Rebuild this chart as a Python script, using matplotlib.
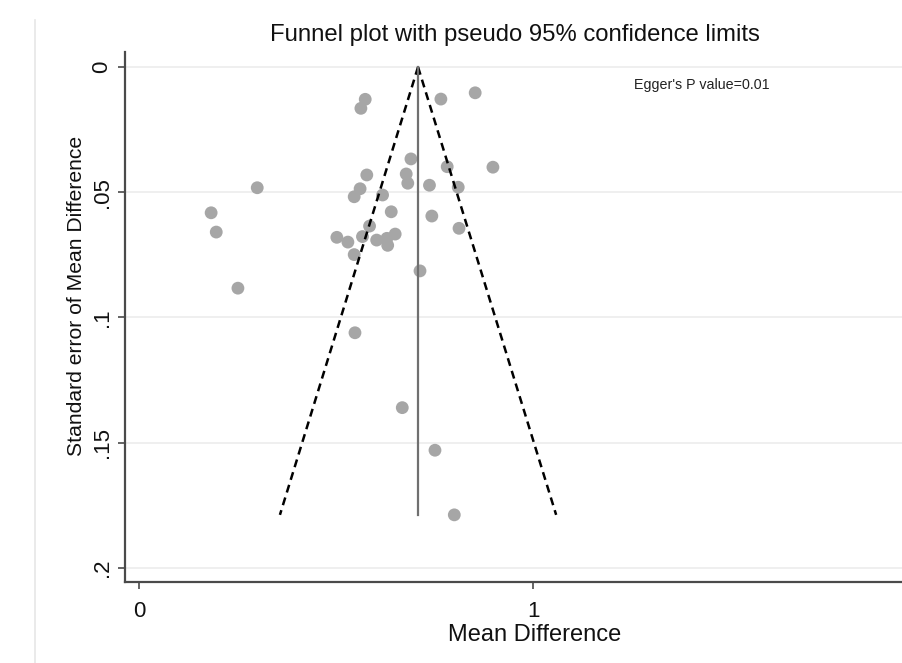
import matplotlib
matplotlib.use('Agg')
import matplotlib.pyplot as plt
from matplotlib.lines import Line2D
import numpy as np

plt.rcParams['font.family'] = ['Liberation Sans', 'DejaVu Sans']

# study estimates: mean difference and its standard error
mean_diff = [0.574, 0.563, 0.766, 0.853, 0.690, 0.782, 0.898, 0.578, 0.678,
             0.682, 0.737, 0.810, 0.300, 0.561, 0.546, 0.618, 0.183, 0.640,
             0.743, 0.196, 0.585, 0.812, 0.502, 0.530, 0.567, 0.603, 0.629,
             0.650, 0.631, 0.546, 0.713, 0.251, 0.548, 0.668, 0.751, 0.800]
std_err = [0.0129, 0.0165, 0.0128, 0.0103, 0.0367, 0.0398, 0.0400, 0.0431,
           0.0427, 0.0464, 0.0472, 0.0480, 0.0482, 0.0486, 0.0518, 0.0511,
           0.0582, 0.0578, 0.0595, 0.0659, 0.0635, 0.0644, 0.0680, 0.0699,
           0.0677, 0.0691, 0.0684, 0.0667, 0.0712, 0.0749, 0.0814, 0.0883,
           0.1061, 0.1360, 0.1530, 0.1788]
pooled = 0.708
egger_text = "Egger's P value=0.01"

ytick_vals = [0, 0.05, 0.1, 0.15, 0.2]
ytick_labels = ['0', '.05', '.1', '.15', '.2']
xtick_vals = [0, 1]

fig = plt.figure(figsize=(9.02, 6.63), dpi=100)
ax = fig.add_axes([0.1386, 0.1222, 0.8614, 0.7994])

# pseudo 95% limits
se_max = max(std_err)
se_line = np.array([0, se_max])
ax.plot(pooled - 1.96 * se_line, se_line, color='black', lw=1.8,
        dashes=(3.2, 2.1), zorder=3)
ax.plot(pooled + 1.96 * se_line, se_line, color='black', lw=1.8,
        dashes=(3.2, 2.1), zorder=3)
ax.plot([pooled, pooled], [0, se_max], color='#707070', lw=1.6, zorder=3)

ax.scatter(mean_diff, std_err, s=85, color='#a6a6a6', edgecolors='none',
           zorder=2)

ax.set_xlim(-0.0355, 1.936)
ax.set_ylim(0.2056, -0.006)
ax.set_xticks(xtick_vals)
ax.set_xticklabels([str(v) for v in xtick_vals])
ax.set_yticks(ytick_vals)
ax.set_yticklabels(ytick_labels, rotation=90, va='center')

for v in ytick_vals:
    ax.axhline(v, color='#ececec', lw=1.2, zorder=0)

for side in ['top', 'right']:
    ax.spines[side].set_visible(False)
for side in ['left', 'bottom']:
    ax.spines[side].set_color('#4a4a4a')
    ax.spines[side].set_linewidth(1.6)

ax.tick_params(axis='both', colors='#4a4a4a', length=5, width=1.2,
               labelsize=16, labelcolor='#111111')
ax.tick_params(axis='x', pad=9)
ax.tick_params(axis='y', pad=4)

ax.set_xlabel('Mean Difference', fontsize=17, color='#111111')
ax.xaxis.set_label_coords(0.527, -0.079)
ax.set_ylabel('Standard error of Mean Difference', fontsize=15.2,
              color='#111111')
ax.yaxis.set_label_coords(-0.05, 0.54)

ax.text(1.256, 0.0072, egger_text, fontsize=10.3, color='#222222',
        ha='left', va='center')

fig.text(0.571, 0.947, 'Funnel plot with pseudo 95% confidence limits',
         fontsize=17.2, color='#111111', ha='center', va='center')

# faint frame on the left of the canvas
fig.add_artist(Line2D([0.039, 0.039], [0.0, 0.97], color='#e6e6e6', lw=1.2))

fig.savefig('out.png', dpi=100, facecolor='white')
